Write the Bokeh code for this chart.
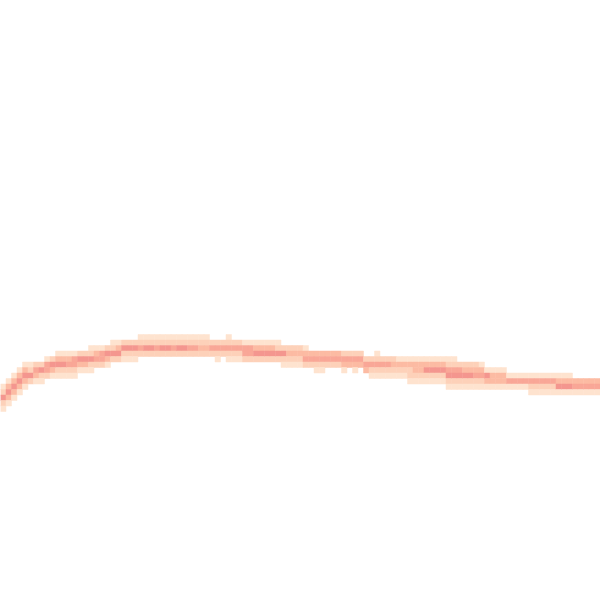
from bokeh.plotting import figure
from bokeh.models import ColumnDataSource, Range1d
from bokeh.embed import file_html
from bokeh.resources import INLINE

# Density band of a 2D histogram: for each grid column, the first occupied row
# and the intensity level (1 = lightest .. 5 = darkest) of each following row.
columns = list(range(109))
top_rows = [
    69, 68, 67, 66, 65, 65, 65, 65, 64, 64,
    63, 63, 63, 63, 63, 63, 62, 62, 62, 62,
    61, 61, 61, 61, 61, 60, 60, 60, 60, 60,
    60, 60, 60, 60, 60, 60, 60, 60, 61, 61,
    61, 60, 61, 61, 61, 61, 61, 61, 61, 61,
    61, 62, 62, 62, 62, 62, 63, 63, 63, 63,
    63, 63, 63, 63, 63, 63, 64, 64, 63, 64,
    64, 64, 64, 64, 64, 64, 64, 64, 64, 64,
    64, 64, 64, 65, 65, 65, 65, 65, 66, 66,
    66, 66, 67, 67, 67, 67, 67, 67, 67, 67,
    67, 67, 67, 67, 68, 68, 68, 68, 68,
]
level_strings = [
    "12521", "13531", "13531", "13531", "13531", "1252", "2431", "2521", "1442", "2531",
    "13521", "13521", "13421", "14421", "2531", "2531", "12521", "1342", "1442", "2531",
    "1252", "1352", "2521", "2521", "2521", "1242", "1252", "1252", "1242", "1252",
    "1252", "1242", "1252", "1252", "1242", "1242", "1232", "1232", "242", "2421",
    "242", "12421", "2421", "2421", "1442", "1442", "1352", "1352", "1352", "1352",
    "1252", "2521", "2321", "2321", "2321", "1342", "342", "3421", "3421", "342",
    "342", "342", "2431", "243", "2431", "243", "243", "2421", "12421", "2421",
    "2421", "2321", "1321", "1321", "13221", "13321", "13321", "13521", "13521", "13521",
    "13521", "124521", "124521", "24521", "23521", "23521", "23421", "13421", "1531", "1331",
    "1331", "1331", "141", "141", "141", "141", "1421", "1421", "1421", "1421",
    "1421", "1351", "1351", "1351", "341", "341", "341", "341", "341",
]

palette = ["#fee3cf", "#fdd1b9", "#fcbba3", "#f9a797", "#f4968f"]

left, right, top, bottom, colors = [], [], [], [], []
for c, r0, levels in zip(columns, top_rows, level_strings):
    for i, ch in enumerate(levels):
        lv = int(ch)
        if lv == 0:
            continue
        r = r0 + i
        left.append(c)
        right.append(c + 1)
        top.append(r)
        bottom.append(r + 1)
        colors.append(palette[lv - 1])

src = ColumnDataSource(dict(left=left, right=right, top=top, bottom=bottom, color=colors))

CELL = 5.5
p = figure(width=600, height=600, output_backend="svg", toolbar_location=None,
           x_axis_location=None, y_axis_location=None, min_border=0,
           x_range=Range1d(0, 600 / CELL),
           y_range=Range1d((600 - 4) / CELL, (0 - 4) / CELL))
p.grid.visible = False
p.outline_line_color = None
p.background_fill_color = "white"
p.border_fill_color = "white"

p.quad(left="left", right="right", top="top", bottom="bottom", source=src,
       fill_color="color", line_color="color", line_width=0.5)

open("out.html", "w").write(file_html(p, INLINE))
